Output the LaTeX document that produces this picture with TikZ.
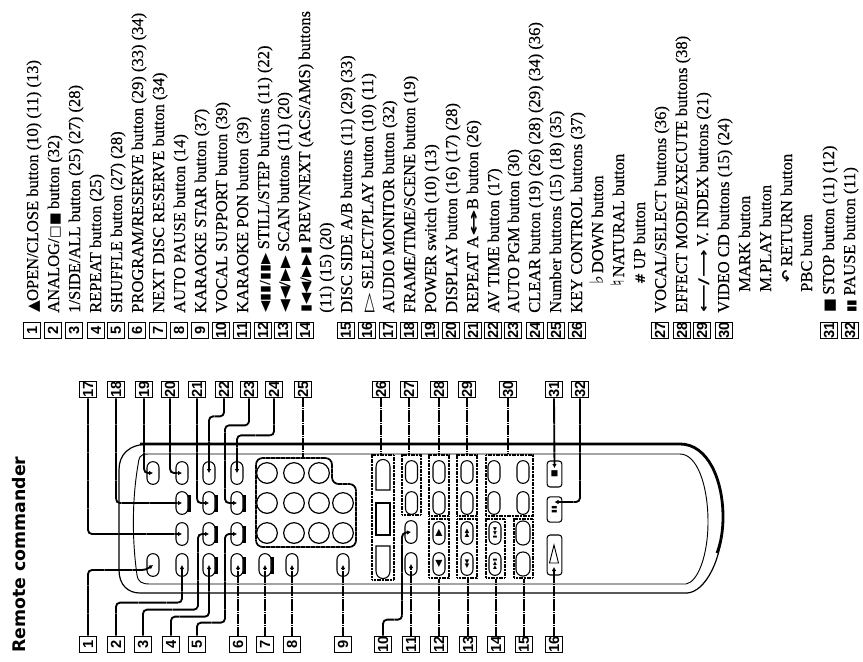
\documentclass[tikz,border=0pt]{standalone}
\usepackage{fontspec}
\setmainfont{Liberation Serif}
\newfontfamily\itmf{Liberation Serif}[FakeBold=0.25]
\newfontfamily\labf{Liberation Sans}
\newfontfamily\sym{DejaVu Sans}
\newfontfamily\ttlf{DejaVu Sans}
\usetikzlibrary{arrows.meta,fit}
\tikzset{
  lab/.style={draw,line width=.8pt,minimum size=12.5pt,inner sep=0pt,font=\labf\bfseries\fontsize{11}{11}\selectfont},
  itm/.style={rotate=90,anchor=base west,inner sep=0pt,font=\itmf\fontsize{12.4}{14}\selectfont},
  pill/.style={draw,line width=.8pt,fill=white,minimum width=9pt,minimum height=17pt,rounded corners=4.4pt,inner sep=0pt},
  widepill/.style={pill,minimum width=10.5pt,minimum height=18pt,rounded corners=5pt},
  rbtn/.style={draw,line width=.8pt,fill=white,minimum width=11pt,rounded corners=2.2pt,inner sep=0pt},
  grp/.style={draw,line width=1.3pt,dash pattern=on .9pt off .3pt,inner sep=0pt},
  numkey/.style={draw,circle,line width=.9pt,minimum size=15.5pt,inner sep=0pt},
  conn/.style={line width=1.4pt,dash pattern=on 1.2pt off .2pt,rounded corners=3pt,-{Latex[length=3pt,width=3.5pt]}},
  connp/.style={line width=1.4pt,dash pattern=on 1.2pt off .2pt,rounded corners=3pt},
  gl/.style={font=\sym\fontsize{4.5}{5}\selectfont},
}
\newcommand{\pbar}[3]{\node[pill] (#1) at (#2,#3) {}; }
\newcommand{\pillbar}[3]{\fill (#2+5,#3-8.5) rectangle (#2+8.8,#3+8.5); \node[pill] (#1) at (#2,#3) {};}
\newcommand{\rot}[1]{\rotatebox{90}{#1}}
\newcommand{\sy}[3]{\scalebox{#1}[1]{\sym\fontsize{#2}{#2}\selectfont #3}}
\begin{document}
\begin{tikzpicture}[x=.75pt,y=-.75pt]
\useasboundingbox (0,0) rectangle (863,661);
\fill[white] (0,0) rectangle (863,661);

% title
\node[rotate=90,anchor=base west,inner sep=0pt,font=\ttlf\bfseries\fontsize{13}{15}\selectfont] (title) at (26,653) {Remote commander};

% list number boxes
\foreach \n/\x in {1/32,2/53,3/74,4/96,5/116,6/137,7/158,8/179,9/200,10/221,11/242,12/263,13/283,14/305,15/346,16/367,17/388,18/409,19/430,20/451,21/473,22/493,23/513,24/535,25/556,26/577,27/660,28/682,29/702,30/724,31/829,32/850}
  \node[lab] (n\n) at (\x,330.5) {\rot{\n}};

% list text
\node[itm] (t1) at (38,313) {\sy{1}{11.5}{▲}OPEN/CLOSE button (10) (11) (13)};
\node[itm] (t2) at (59,313) {ANALOG/\sy{1}{10}{□■} button (32)};
\node[itm] (t3) at (80,313) {1/SIDE/ALL button (25) (27) (28)};
\node[itm] (t4) at (101,313) {REPEAT button (25)};
\node[itm] (t5) at (122,313) {SHUFFLE button (27) (28)};
\node[itm] (t6) at (143,313) {PROGRAM/RESERVE button (29) (33) (34)};
\node[itm] (t7) at (164,313) {NEXT DISC RESERVE button (34)};
\node[itm] (t8) at (185,313) {AUTO PAUSE button (14)};
\node[itm] (t9) at (206,313) {KARAOKE STAR button (37)};
\node[itm] (t10) at (227,313) {VOCAL SUPPORT button (39)};
\node[itm] (t11) at (248,313) {KARAOKE PON button (39)};
\node[itm] (t12) at (269,313) {\sy{1.15}{9.5}{◀▮▮/▮▮▶} STILL/STEP buttons (11) (22)};
\node[itm] (t13) at (289,313) {\sy{1.25}{10}{◀◀/▶▶} SCAN buttons (11) (20)};
\node[itm] (t14) at (310,313) {\sy{1.1}{10}{▮◀◀/▶▶▮} PREV/NEXT (ACS/AMS) buttons};
\node[itm] (t14b) at (331,313) {(11) (15) (20)};
\node[itm] (t15) at (352,313) {DISC SIDE A/B buttons (11) (29) (33)};
\node[itm] (t16) at (373,313) {\sy{1.9}{10}{▷} SELECT/PLAY button (10) (11)};
\node[itm] (t17) at (394,313) {AUDIO MONITOR button (32)};
\node[itm] (t18) at (415,313) {FRAME/TIME/SCENE button (19)};
\node[itm] (t19) at (436,313) {POWER switch (10) (13)};
\node[itm] (t20) at (457,313) {DISPLAY button (16) (17) (28)};
\node[itm] (t21) at (478,313) {REPEAT A\sy{2.4}{10}{\bfseries ↔}B button (26)};
\node[itm] (t22) at (499,313) {AV TIME button (17)};
\node[itm] (t23) at (519,313) {AUTO PGM button (30)};
\node[itm] (t24) at (540,313) {CLEAR button (19) (26) (28) (29) (34) (36)};
\node[itm] (t25) at (561,313) {Number buttons (15) (18) (35)};
\node[itm] (t26) at (582,313) {KEY CONTROL buttons (37)};
\node[itm] (ta) at (603,285) {\sy{1}{14}{\bfseries ♭}\,DOWN button};
\node[itm] (tb) at (624,287) {\sy{1}{14}{\bfseries ♮}\,NATURAL button};
\node[itm] (tc) at (645,285) {\sy{1}{10}{\bfseries \#} UP button};
\node[itm] (t27) at (666,313) {VOCAL/SELECT buttons (36)};
\node[itm] (t28) at (687,313) {EFFECT MODE/EXECUTE buttons (38)};
\node[itm] (t29) at (708,313) {\sy{1.45}{10}{\bfseries ⟵/⟶} V. INDEX buttons (21)};
\node[itm] (t30) at (729,313) {VIDEO CD buttons (15) (24)};
\node[itm] (td) at (750,292) {MARK button};
\node[itm] (te) at (771,292) {M.PLAY button};
\node[itm] (tf) at (792,283) {\sy{1}{11}{\bfseries ↶} RETURN button};
\node[itm] (tg) at (812,292) {PBC button};
\node[itm] (t31) at (834,313) {\sy{1}{11}{■} STOP button (11) (12)};
\node[itm] (t32) at (855,313) {\sy{1}{9}{▮▮} PAUSE button (11)};

% remote body
\draw[line width=.9pt] (150,444) .. controls (128,444) and (119,455) .. (119,470) -- (119,570) .. controls (119,585) and (128,593) .. (140,593) -- (687,593) .. controls (705,592) and (723,560) .. (723,517);
\draw[line width=2.1pt] (140,444) -- (680,444) .. controls (708,444) and (723,480) .. (723,517) .. controls (723,530) and (721,543) .. (717,553);
\draw[line width=.7pt] (680,454) -- (148,454) .. controls (139,454) and (139,458) .. (138,465) .. controls (132,500) and (132,540) .. (137,575) .. controls (138,582) and (142,584) .. (150,584) -- (686,584) .. controls (698,582) and (708,555) .. (708,522) .. controls (708,485) and (697,454) .. (680,454);

% pills
\pbar{b19}{153}{473}\pbar{b20}{182}{473}\pbar{b22}{209}{473}\pbar{b24}{237}{473}
\pillbar{b18}{182}{503}\pillbar{b21}{209}{503}\pillbar{b23}{237}{503}
\pbar{b17}{182}{534}\pillbar{b3}{209}{534}\pillbar{b5}{237}{534}
\pbar{b1}{153}{565}\pbar{b2}{182}{565}\pillbar{b4}{209}{565}\pillbar{b6}{237}{565}\pillbar{b7}{265}{565}\pbar{b8}{292}{565}\pbar{b9}{343}{565}

% number keys
\foreach \x/\c in {267/a,294/b,319/c}
  \node[numkey] (ka\c) at (\x,473) {};
\foreach \x/\c in {267/a,294/b,319/c,343/d}{
  \node[numkey] (kb\c) at (\x,503) {};
  \node[numkey] (kc\c) at (\x,533) {};
}
\draw[line width=1.3pt,dash pattern=on 1pt off .25pt,rounded corners=5pt] (256,458) -- (332,458) -- (332,484) -- (356,484) -- (356,547) -- (256,547) -- cycle;
\coordinate (pad) at (303,458);

% groups
\node[grp,fit={(372,455) (394,580)}] (g26) {};
\node[grp,fit={(402,455) (421,515)}] (g27) {};
\node[grp,fit={(429,455) (449,516)}] (g28) {};
\node[grp,fit={(457,455) (477,516)}] (g29) {};
\node[grp,fit={(486,455) (533,516)}] (g30) {};
\node[grp,fit={(429,519) (449,578)}] (g12) {};
\node[grp,fit={(457,519) (477,578)}] (g13) {};
\node[grp,fit={(486,519) (505,578)}] (g14) {};
\node[grp,fit={(514,519) (533,578)}] (g15) {};

% group 26 contents
\draw[line width=.8pt] (376,490) -- (376,467) .. controls (376,457) and (390,457) .. (390,467) -- (390,490) -- cycle;
\draw[line width=.8pt] (376,503) rectangle (390,535);
\draw[line width=.8pt] (376,546) -- (376,571) .. controls (376,581) and (390,581) .. (390,571) -- (390,546) -- cycle;

\foreach \x in {411.5,439,467,494,523}{
  \node[pill] at (\x,472) {};
  \node[pill] at (\x,503) {};
}
\node[pill] (b10) at (411,532) {};
\node[pill] (b11) at (411,564) {};
\node[pill,gl] (p12a) at (439,533) {\rot{\fontsize{7}{7}\selectfont ▶}};
\node[pill,gl] (p12b) at (439,564) {\rot{\fontsize{7}{7}\selectfont ◀}};
\node[pill,gl] (p13a) at (467,533) {\rot{▶▶}};
\node[pill,gl] (p13b) at (467,564) {\rot{◀◀}};
\node[pill,gl] (p14a) at (495,533) {\rot{\fontsize{3.8}{4}\selectfont ▮◀◀}};
\node[pill,gl] (p14b) at (495,564) {\rot{\fontsize{3.8}{4}\selectfont ▶▶▮}};
\node[widepill] (p15a) at (523,533) {};
\node[widepill] (p15b) at (523,564) {};

% stop, pause, play
\node[rbtn,minimum height=19.5pt,gl] (b31) at (554.5,474) {\rot{\fontsize{6}{6}\selectfont ■}};
\node[rbtn,minimum height=19pt,gl] (b32) at (554.5,509.5) {\rot{\fontsize{5}{5}\selectfont ▮▮}};
\node[rbtn,minimum height=30pt] (b16) at (554.5,555) {};
\draw[line width=.7pt] (554,545) -- (558.5,563) -- (549.5,563) -- cycle;

% labels top
\foreach \n/\x in {17/88,18/116,19/144,20/170,21/197,22/224,23/249,24/274,25/303,26/381,27/409,28/439,29/467,30/508,31/554,32/580}
  \node[lab] (l\n) at (\x,389.5) {\rot{\n}};
% labels bottom
\foreach \n/\x in {1/88,2/116,3/143,4/171,5/197,6/238,7/265,8/292,9/343,10/383,11/411,12/439,13/468,14/496,15/524,16/554}
  \node[lab] (l\n) at (\x,644.5) {\rot{\n}};

% connectors
\draw[conn] (l17.south) |- (b17.center);
\draw[conn] (l18.south) |- (b18.center);
\draw[conn] (l19.south) |- (b19.center);
\draw[conn] (l20.south) |- (b20.center);
\draw[conn] (l21.south) |- (b21.center);
\draw[conn] (l22.south) -- ++(0,18) -| (b22.center);
\draw[conn] (l23.south) -- ++(0,27) -| ++(-24,30) |- (b23.center);
\draw[conn] (l24.south) -- ++(0,37) -| (b24.center);
\draw[connp] (l25.south) -- (pad);
\draw[connp] (l26.south) -- (l26.south |- g26.north);
\draw[connp] (l27.south) -- (l27.south |- g27.north);
\draw[connp] (l28.south) -- (l28.south |- g28.north);
\draw[connp] (l29.south) -- (l29.south |- g29.north);
\draw[connp] (l30.south) -- (l30.south |- g30.north);
\draw[conn] (l31.south) -- (b31.center |- 0,468);
\draw[conn] (l32.south) |- (b32.center |- 0,502);

\draw[conn] (l1.north) |- (146,570) -- (b1.center);
\draw[conn] (l2.north) -- ++(0,-33) -| (b2.center);
\draw[conn] (l3.north) -- ++(0,-26) -| (198,534) -- (b3.center);
\draw[conn] (l4.north) -- ++(0,-19) -| (b4.center);
\draw[conn] (l5.north) -- ++(0,-13) -| (225,534) -- (b5.center);
\draw[conn] (l6.north) -- (l6.north |- b6.center);
\draw[conn] (l7.north) -- (l7.north |- b7.center);
\draw[conn] (l8.north) -- (l8.north |- b8.center);
\draw[conn] (l9.north) -- (l9.north |- b9.center);
\draw[conn] (l10.north) -- ++(0,-16) -| (402,533) -- (b10.center);
\draw[conn] (l11.north) -- (b11.center);
\draw[connp] (l12.north) -- (l12.north |- g12.south);
\draw[connp] (l13.north) -- (l13.north |- g13.south);
\draw[connp] (l14.north) -- (l14.north |- g14.south);
\draw[connp] (l15.north) -- (l15.north |- g15.south);
\draw[conn] (l16.north) -- (l16.north |- 0,567);
\end{tikzpicture}
\end{document}
